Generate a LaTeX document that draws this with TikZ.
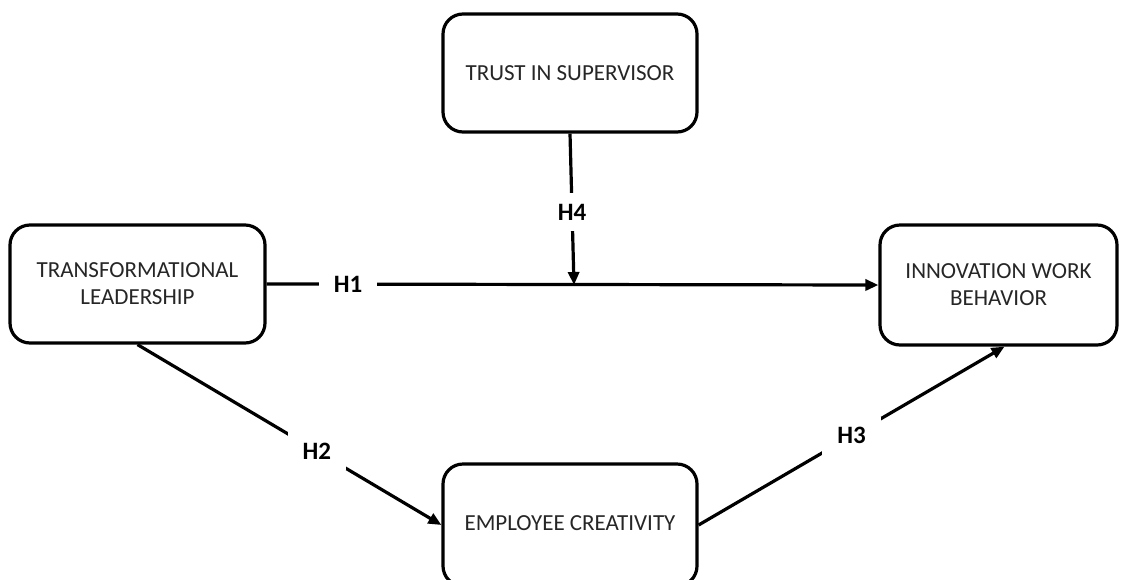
\documentclass[tikz,border=0pt]{standalone}
\usepackage{fontspec}
\setmainfont{Carlito}
\usetikzlibrary{arrows.meta,calc}
\tikzset{
  boxnode/.style={draw=black, line width=3.2pt, rounded corners=20pt, fill=white,
    align=center, font=\fontsize{23}{27}\selectfont, text=black!85, inner sep=0pt},
  link/.style={line width=3.2pt, -{Triangle[length=13pt,width=11pt]}},
  hlabel/.style={fill=white, font=\fontsize{25}{29}\selectfont\bfseries, inner xsep=15pt, inner ysep=11pt, text=black}
}
\begin{document}
\begin{tikzpicture}[x=1pt,y=-1pt]
\useasboundingbox (0,0) rectangle (1126,579);
\node[boxnode, minimum width=254pt, minimum height=118pt] (TS) at (570,73) {TRUST IN SUPERVISOR};
\node[boxnode, minimum width=255pt, minimum height=118pt] (TL) at (137.5,284) {TRANSFORMATIONAL\\LEADERSHIP};
\node[boxnode, minimum width=237pt, minimum height=120pt] (IWB) at (998.5,285) {INNOVATION WORK\\BEHAVIOR};
\node[boxnode, minimum width=254pt, minimum height=122pt] (EC) at (570,525) {};
\node[font=\fontsize{23}{27}\selectfont, text=black!85] (ECt) at (570,523) {EMPLOYEE CREATIVITY};
\coordinate (m) at (574,285);
\draw[link] (TL.east) -- node[hlabel, pos=0.133] (h1) {H1} (IWB.west);
\draw[link] (TS.south) -- node[hlabel, pos=0.52] (h4) {H4} (m);
\draw[link] (TL.south) -- node[hlabel, pos=0.59] (h2) {H2} (EC.west);
\draw[link] (EC.east) -- node[hlabel, pos=0.5] (h3) {H3} ($(IWB.south)+(6,0)$);
\end{tikzpicture}
\end{document}
